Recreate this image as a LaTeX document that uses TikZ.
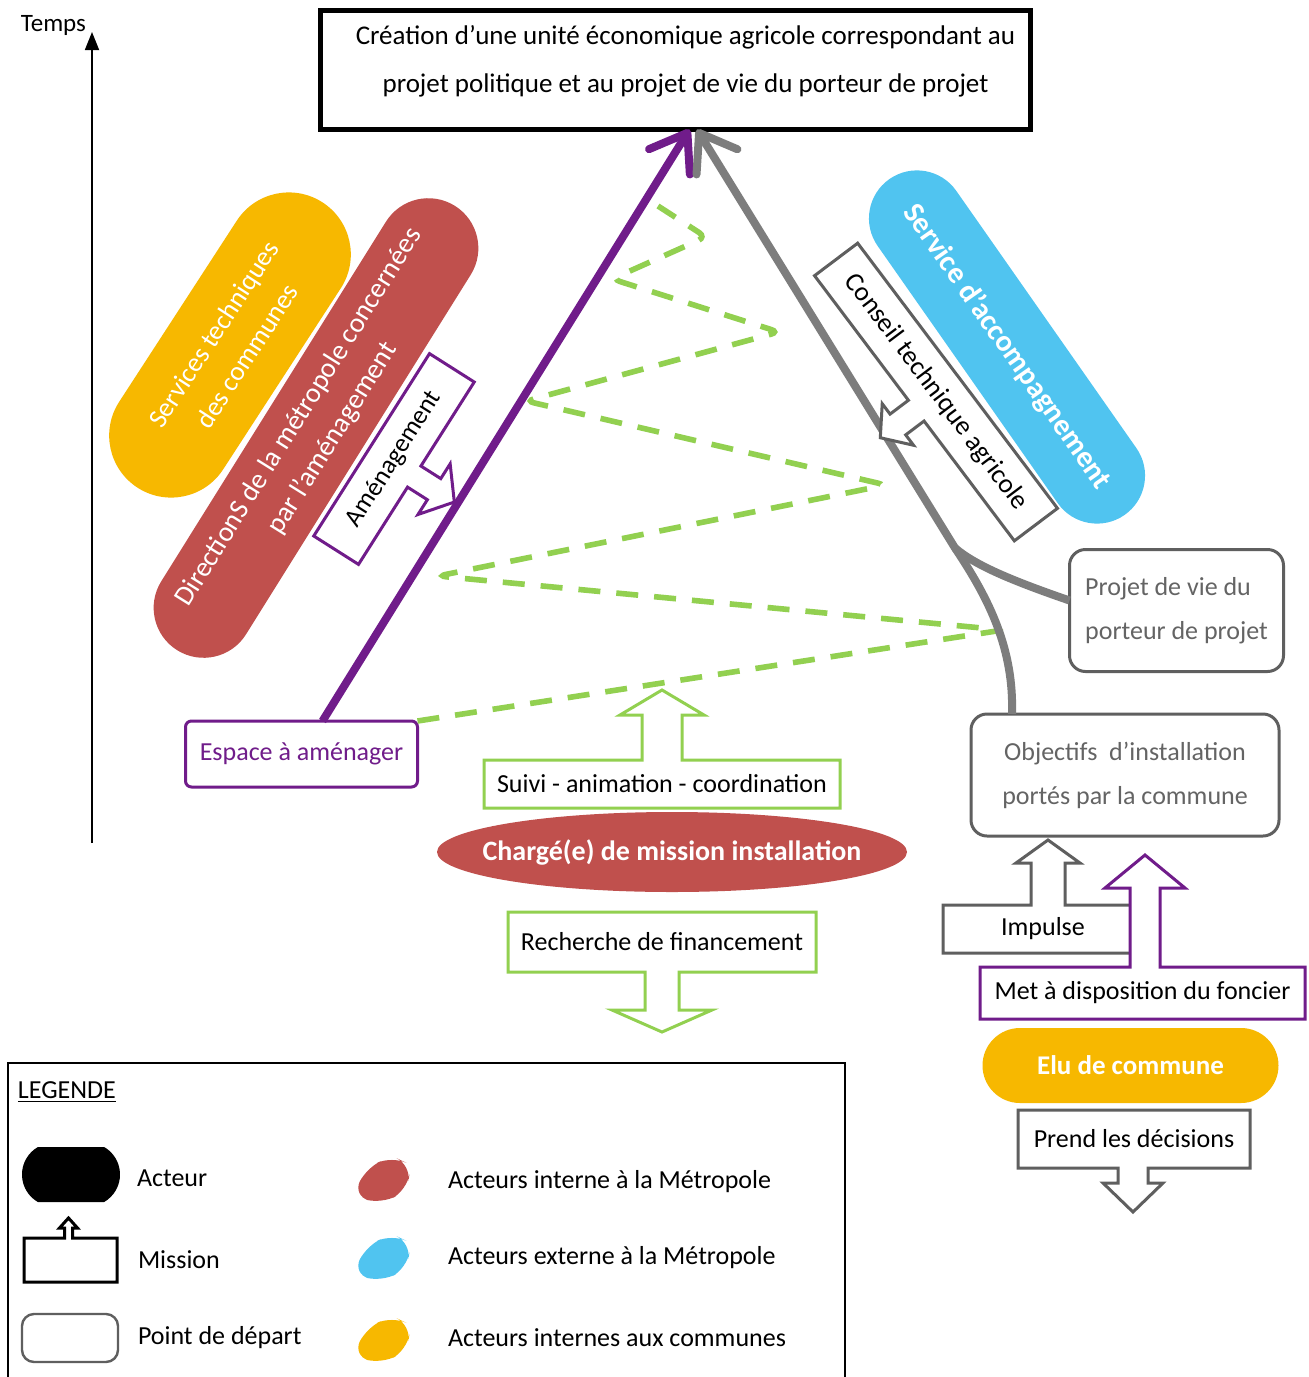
\documentclass[tikz,border=0pt]{standalone}
\usepackage{fontspec}
\setmainfont{Carlito}
\usetikzlibrary{arrows.meta,shapes.misc,shapes.geometric,calc}
\pgfdeclarelayer{back}
\pgfsetlayers{back,main}
\definecolor{cpurple}{RGB}{112,28,138}
\definecolor{cgray}{RGB}{125,125,125}
\definecolor{cdgray}{RGB}{95,95,95}
\definecolor{cgreen}{RGB}{146,208,80}
\definecolor{cred}{RGB}{192,80,77}
\definecolor{cyellow}{RGB}{247,184,0}
\definecolor{cblue}{RGB}{80,196,240}
\definecolor{ctext}{RGB}{100,100,100}
\newcommand\missionup[7]{\draw[mline,draw=#2] (#1.south west) -- (#1.north west) -- ($(#1.north)+(#3-#4,0)$) -- ++(0,-#5) -- ++(#4-#6,0) -- ++(#6,-#7) -- ++(#6,#7) -- ++(#4-#6,0) -- ++(0,#5) -- (#1.north east) -- (#1.south east) -- cycle;}
\newcommand\missiondown[7]{\draw[mline,draw=#2] (#1.north west) -- (#1.south west) -- ($(#1.south)+(#3-#4,0)$) -- ++(0,#5) -- ++(#4-#6,0) -- ++(#6,#7) -- ++(#6,-#7) -- ++(#4-#6,0) -- ++(0,-#5) -- (#1.south east) -- (#1.north east) -- cycle;}
\begin{document}
\begin{tikzpicture}[x=0.5pt,y=-0.5pt,
 every node/.style={inner sep=0pt,outer sep=0pt},
 f13/.style={font=\fontsize{13}{22}\selectfont},
 mline/.style={line width=1.5pt,fill=white,line join=miter},
 startbox/.style={draw=cdgray,line width=1.5pt,rounded corners=8pt,fill=white,text=ctext,align=center,f13},
 actor/.style={text=white,font=\bfseries\fontsize{13.5}{16}\selectfont},
 mainarrow/.style={line width=4pt,-{Straight Barb[length=17pt,width=24pt,round]}},
 zig/.style={draw=cgreen,line width=2.8pt,dash pattern=on 11pt off 8pt}]
\useasboundingbox (0,0) rectangle (1309,1377);
\begin{pgfonlayer}{back}
\fill[white] (0,0) rectangle (1309,1377);
\end{pgfonlayer}

% time axis
\coordinate (tbot) at (92,843);
\coordinate (ttop) at (92,32);
\draw[line width=0.9pt,-{Triangle[length=9pt,width=7pt]}] (tbot) -- (ttop);
\node[anchor=base east,font=\fontsize{12.5}{14}\selectfont] (temps) at (86,31) {Temps};

% actor pills (rotated)
\node[rounded rectangle,fill=cyellow,minimum width=170pt,minimum height=62pt,rotate=57,text=white,align=center,font=\fontsize{13.5}{20}\selectfont] (stc) at (230,345) {Services techniques\\des communes};
\node[rounded rectangle,fill=cred,minimum width=262pt,minimum height=50pt,rotate=58,text=white,align=center,font=\fontsize{14}{20}\selectfont] (dir) at (316,428) {DirectionS de la métropole concernées\\par l’aménagement};
\node[rounded rectangle,fill=cblue,minimum width=205pt,minimum height=48pt,rotate=-55,text=white,font=\bfseries\fontsize{15}{17}\selectfont] (sda) at (1007,347) {Service d’accompagnement};

% boxes
\node[draw,line width=2.5pt,minimum width=355pt,minimum height=59.5pt,text depth=11pt,align=center,font=\fontsize{13.5}{24}\selectfont,fill=white] (title) at (675.5,70) {\hspace*{10pt}Création d’une unité économique agricole correspondant au\\\hspace*{10pt}projet politique et au projet de vie du porteur de projet};
\node[draw=cpurple,line width=1.5pt,rounded corners=3pt,minimum width=116pt,minimum height=33pt,text=cpurple,f13,fill=white] (espace) at (301.5,754) {Espace à aménager};
\node[startbox,minimum width=107pt,minimum height=61pt,align=left] (pdv) at (1176.5,610.5) {Projet de vie du\\porteur de projet};
\node[startbox,minimum width=154pt,minimum height=61pt] (obj) at (1125,775) {Objectifs\ \ d’installation\\portés par la commune};

% green dashed zigzag
\coordinate (zend) at (658,206);
\draw[zig,rounded corners=4pt] (espace.north east) -- (1003,630) -- (438,576) -- (886,485) -- (526,401) -- (779,332) -- (612,279) -- (706,237) -- (zend);

% main arrows
\draw[mainarrow,draw=cpurple] ([xshift=10.5pt]espace.north) -- ([xshift=7pt]title.south);
\coordinate (gj) at (955,548);
\draw[mainarrow,draw=cgray] ([xshift=-56.5pt]obj.north) .. controls (1014,650) and (990,600) .. (gj) -- ([xshift=10.75pt]title.south);
\draw[line width=4pt,draw=cgray] ([yshift=5pt]pdv.west) .. controls (1010,580) and (975,565) .. (gj);

% rotated missions
\begin{scope}[shift={(394,459)},rotate=57.6]
\draw[mline,draw=cpurple] (-108,-26.5) -- (108,-26.5) -- (108,26.5) -- (8.5,26.5) -- (8.5,50) -- (26,50) -- (-4,74) -- (-34,50) -- (-16.5,50) -- (-16.5,26.5) -- (-108,26.5) -- cycle;
\node[transform shape,font=\fontsize{13}{15}\selectfont] (amen) at (0,0) {Aménagement};
\end{scope}
\begin{scope}[shift={(936,392)},rotate=-53]
\draw[mline,draw=cdgray] (-166,-27) -- (166,-27) -- (166,27) -- (16,27) -- (16,50) -- (29,50) -- (3,72) -- (-23,50) -- (-10,50) -- (-10,27) -- (-166,27) -- cycle;
\node[transform shape,font=\fontsize{13.5}{15}\selectfont] (cta) at (0,0) {Conseil technique agricole};
\end{scope}

% bottom actors
\fill[cred] (672,852) ellipse [x radius=117.5pt, y radius=20pt];
\node[actor,font=\bfseries\fontsize{14}{16}\selectfont] (charge) at (672,852) {Chargé(e) de mission installation};
\node[rounded rectangle,fill=cyellow,minimum width=148pt,minimum height=37.5pt,actor] (elu) at (1130.5,1065.5) {Elu de commune};

% missions
\node[f13,minimum width=178pt,minimum height=24pt] (suivi) at (662,784) {Suivi - animation - coordination};
\node[f13,minimum width=154pt,minimum height=30pt] (rech) at (662,942) {Recherche de financement};
\node[f13,minimum width=100pt,minimum height=24pt] (imp) at (1043,929) {Impulse};
\node[f13,minimum width=162.5pt,minimum height=26pt] (met) at (1142.5,993) {Met à disposition du foncier};
\node[f13,minimum width=116pt,minimum height=29pt] (prend) at (1134,1139) {Prend les décisions};
\begin{pgfonlayer}{back}
\missionup{suivi}{cgreen}{0}{20}{45}{42}{25}
\missiondown{rech}{cgreen}{0}{17}{38}{50}{22}
\missionup{imp}{cdgray}{5}{17}{42}{32}{23}
\missionup{met}{cpurple}{2.5}{15}{79}{40}{33}
\missiondown{prend}{cdgray}{-1}{15}{15}{30}{29}
\end{pgfonlayer}

% legend
\node[draw,line width=1pt,minimum width=418.5pt,minimum height=170pt,anchor=north west] (leg) at (8,1063) {};
\node[anchor=west,f13] (legt) at (18,1092) {\underline{LEGENDE}};
\node[rounded rectangle,rounded rectangle arc length=120,fill=black,minimum width=49pt,minimum height=27.5pt] (lact) at (71,1174.5) {};
\node[minimum width=46.5pt,minimum height=22pt] (lmis) at (70.5,1260) {};
\missionup{lmis}{black}{-2}{4}{10}{9}{10}
\node[draw=cdgray,line width=1.2pt,rounded corners=6pt,minimum width=48pt,minimum height=24pt] (lpd) at (70,1338) {};
\node[anchor=west,f13] (l1) at (137,1178) {Acteur};
\node[anchor=west,f13] (l2) at (138,1260) {Mission};
\node[anchor=west,f13] (l3) at (138,1338) {Point de départ};
\node[anchor=west,f13] (l4) at (448,1182) {Acteurs interne à la Métropole};
\node[anchor=west,f13] (l5) at (448,1258) {Acteurs externe à la Métropole};
\node[anchor=west,f13] (l6) at (448,1338) {Acteurs internes aux communes};
\fill[cred,rounded corners=8pt] (353,1196) -- (366,1168) -- (392,1156) -- (411,1165) -- (407,1190) -- (382,1204) -- cycle;
\fill[cblue,rounded corners=8pt] (353,1274) -- (366,1246) -- (392,1234) -- (411,1243) -- (407,1268) -- (382,1282) -- cycle;
\fill[cyellow,rounded corners=8pt] (353,1356) -- (366,1328) -- (392,1316) -- (411,1325) -- (407,1350) -- (382,1364) -- cycle;
\end{tikzpicture}
\end{document}
